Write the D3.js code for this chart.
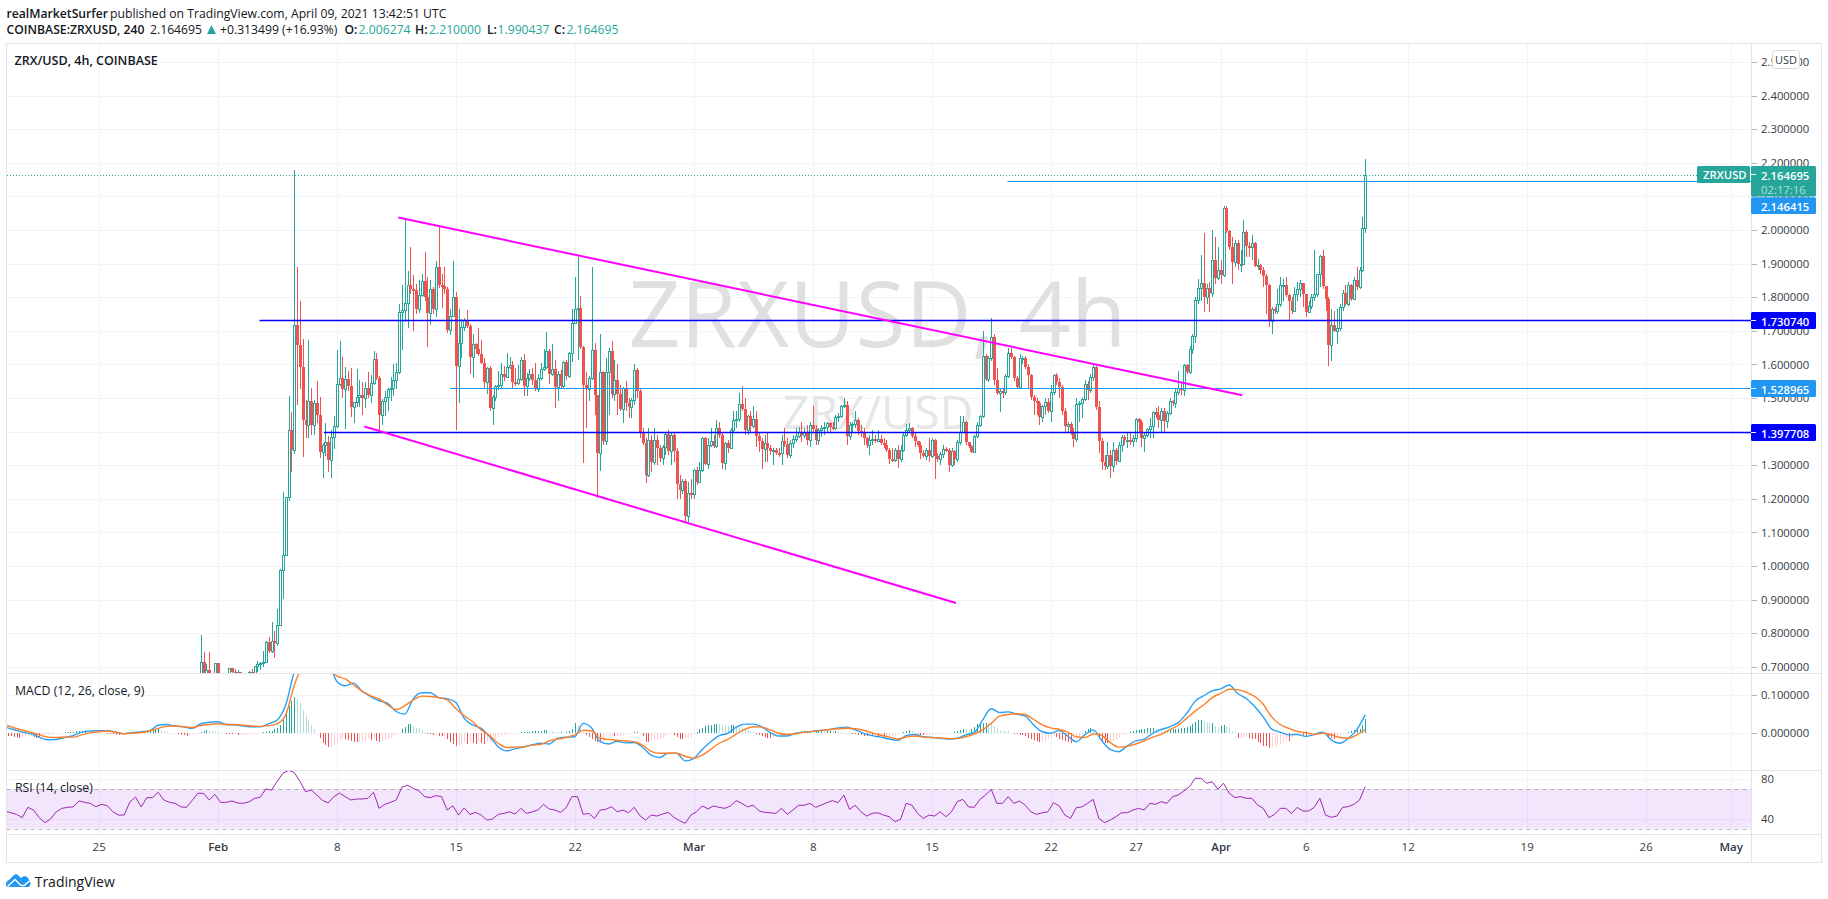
<!DOCTYPE html>
<html><head><meta charset="utf-8">
<script src="https://cdn.jsdelivr.net/npm/d3@7/dist/d3.min.js"></script>
<style>html,body{margin:0;padding:0;background:#fff}svg{display:block}text{font-family:"Open Sans",sans-serif;fill:#131722}</style>
</head><body><svg id="c" width="1828" height="899"></svg>
<script>
const priceTicks=[2.5,2.4,2.3,2.2,2.1,2,1.9,1.8,1.7,1.6,1.5,1.4,1.3,1.2,1.1,1,.9,.8,.7];
const macdTicks=[.1,0];
const rsiTicks=[80,40];
const timeLabels=["25","Feb","8","15","22","Mar","8","15","22","27","Apr","6","12","19","26","May"];
const timeDates=["2021-01-25","2021-02-01","2021-02-08","2021-02-15","2021-02-22","2021-03-01","2021-03-08","2021-03-15","2021-03-22","2021-03-27","2021-04-01","2021-04-06","2021-04-12","2021-04-19","2021-04-26","2021-05-01"];
const candleStart="2021-01-31T00:00:00Z"; // 4h bars
const firstOpen=.65;
const closes=[.715,.66,.69,.66,.65,.71,.66,.65,.65,.66,
.695,.684,.675,.685,.67,.665,.67,.686,.668,.703,
.708,.71,.715,.774,.748,.777,.771,.824,.989,1.033,
1.206,1.405,1.344,1.718,1.657,1.593,1.435,1.42,1.49,1.42,
1.484,1.45,1.338,1.361,1.368,1.315,1.384,1.417,1.541,1.561,
1.526,1.558,1.536,1.473,1.487,1.504,1.509,1.499,1.531,1.509,
1.544,1.616,1.56,1.448,1.49,1.502,1.526,1.529,1.554,1.578,
1.757,1.763,1.783,1.837,1.823,1.82,1.766,1.807,1.847,1.802,
1.753,1.825,1.766,1.891,1.837,1.832,1.825,1.702,1.743,1.8,
1.595,1.665,1.71,1.733,1.714,1.621,1.662,1.645,1.63,1.605,
1.549,1.588,1.47,1.504,1.536,1.54,1.571,1.563,1.593,1.598,
1.549,1.544,1.556,1.613,1.536,1.561,1.571,1.553,1.526,1.56,
1.587,1.591,1.64,1.57,1.585,1.534,1.571,1.536,1.607,1.565,
1.633,1.724,1.766,1.769,1.652,1.539,1.526,1.561,1.642,1.509,
1.336,1.576,1.371,1.578,1.64,1.511,1.555,1.512,1.467,1.529,
1.486,1.473,1.494,1.583,1.522,1.396,1.366,1.272,1.376,1.31,
1.376,1.351,1.322,1.353,1.394,1.341,1.39,1.341,1.243,1.226,
1.252,1.149,1.218,1.215,1.287,1.25,1.287,1.381,1.305,1.361,
1.373,1.356,1.41,1.391,1.307,1.366,1.351,1.406,1.435,1.438,
1.483,1.467,1.404,1.445,1.418,1.437,1.386,1.371,1.348,1.366,
1.351,1.341,1.346,1.336,1.335,1.371,1.364,1.33,1.366,1.378,
1.386,1.398,1.391,1.398,1.376,1.42,1.408,1.376,1.406,1.41,
1.415,1.427,1.415,1.41,1.443,1.445,1.477,1.48,1.386,1.42,
1.423,1.435,1.403,1.4,1.381,1.361,1.376,1.378,1.371,1.378,
1.366,1.361,1.346,1.317,1.316,1.346,1.317,1.346,1.391,1.404,
1.41,1.388,1.371,1.361,1.336,1.327,1.346,1.327,1.374,1.327,
1.317,1.332,1.349,1.346,1.3,1.341,1.317,1.369,1.4,1.43,
1.368,1.356,1.338,1.386,1.42,1.445,1.625,1.556,1.618,1.682,
1.554,1.516,1.522,1.518,1.566,1.633,1.621,1.559,1.534,1.618,
1.62,1.591,1.567,1.502,1.49,1.484,1.443,1.475,1.487,1.46,
1.517,1.568,1.549,1.534,1.46,1.417,1.422,1.4,1.378,1.481,
1.484,1.496,1.541,1.524,1.563,1.591,1.473,1.371,1.309,1.299,
1.331,1.297,1.344,1.312,1.361,1.384,1.374,1.376,1.373,1.38,
1.437,1.43,1.38,1.39,1.407,1.417,1.458,1.45,1.435,1.462,
1.432,1.455,1.49,1.484,1.519,1.531,1.524,1.598,1.576,1.645,
1.684,1.793,1.827,1.843,1.8,1.827,1.812,1.911,1.858,1.881,
1.867,2.064,1.998,1.949,1.904,1.961,1.899,1.9,1.993,1.953,
1.95,1.96,1.892,1.897,1.881,1.862,1.835,1.728,1.766,1.758,
1.78,1.835,1.836,1.807,1.79,1.759,1.81,1.825,1.843,1.81,
1.756,1.773,1.802,1.81,1.868,1.924,1.833,1.795,1.657,1.718,
1.7,1.709,1.771,1.813,1.78,1.835,1.795,1.85,1.83,1.881,
2.006,2.164695];
const highs=[.795,.745,.708,.745,.67,.712,.712,.67,.67,.675,
.697,.695,.692,.69,.684,.676,.678,.688,.692,.703,
.718,.715,.747,.778,.79,.834,.806,.873,.99,1.22,
1.206,1.505,1.457,2.178,1.89,1.79,1.677,1.495,1.674,1.53,
1.494,1.55,1.504,1.366,1.425,1.386,1.405,1.445,1.642,1.669,
1.622,1.593,1.58,1.588,1.487,1.586,1.553,1.549,1.549,1.578,
1.568,1.639,1.635,1.565,1.497,1.52,1.53,1.563,1.6,1.603,
1.78,1.835,2.03,1.879,1.95,1.865,1.84,1.85,1.87,1.934,
1.86,1.85,1.83,1.909,2.013,1.87,1.891,1.83,1.766,1.909,
1.815,1.766,1.736,1.738,1.761,1.72,1.69,1.665,1.709,1.674,
1.618,1.593,1.595,1.51,1.54,1.58,1.603,1.595,1.633,1.623,
1.61,1.59,1.598,1.623,1.63,1.573,1.585,1.59,1.603,1.571,
1.603,1.647,1.696,1.647,1.662,1.613,1.58,1.583,1.61,1.612,
1.636,1.766,1.86,1.921,1.805,1.655,1.578,1.565,1.891,1.664,
1.51,1.69,1.58,1.62,1.65,1.67,1.612,1.6,1.54,1.532,
1.551,1.5,1.5,1.6,1.59,1.53,1.412,1.38,1.41,1.39,
1.41,1.39,1.36,1.36,1.398,1.405,1.4,1.4,1.35,1.27,
1.26,1.26,1.25,1.26,1.29,1.295,1.31,1.383,1.385,1.38,
1.41,1.39,1.435,1.43,1.4,1.37,1.375,1.41,1.46,1.46,
1.514,1.535,1.5,1.45,1.46,1.475,1.46,1.4,1.38,1.39,
1.395,1.36,1.35,1.35,1.35,1.39,1.41,1.38,1.375,1.39,
1.41,1.415,1.43,1.41,1.42,1.43,1.475,1.42,1.41,1.42,
1.43,1.43,1.43,1.43,1.45,1.455,1.48,1.5,1.49,1.43,
1.43,1.46,1.44,1.42,1.41,1.385,1.39,1.405,1.39,1.405,
1.39,1.38,1.375,1.35,1.35,1.35,1.36,1.36,1.4,1.423,
1.425,1.415,1.4,1.37,1.37,1.345,1.35,1.381,1.38,1.378,
1.335,1.34,1.36,1.355,1.35,1.35,1.345,1.375,1.445,1.445,
1.433,1.37,1.36,1.39,1.43,1.45,1.7,1.63,1.625,1.739,
1.69,1.59,1.53,1.53,1.57,1.65,1.65,1.625,1.565,1.63,
1.625,1.625,1.6,1.57,1.51,1.5,1.49,1.48,1.5,1.5,
1.54,1.57,1.575,1.56,1.54,1.47,1.43,1.43,1.41,1.5,
1.49,1.5,1.555,1.552,1.571,1.6,1.595,1.49,1.38,1.33,
1.37,1.345,1.37,1.35,1.37,1.39,1.39,1.395,1.395,1.39,
1.44,1.44,1.435,1.395,1.41,1.44,1.46,1.47,1.475,1.47,
1.47,1.46,1.5,1.495,1.53,1.58,1.545,1.6,1.6,1.655,
1.69,1.8,1.855,1.925,1.99,1.84,1.845,2,1.98,1.95,
1.91,2.07,2.07,2,1.98,1.97,1.97,1.94,2.03,2,
1.965,1.985,1.965,1.915,1.9,1.89,1.87,1.84,1.77,1.77,
1.825,1.86,1.855,1.86,1.81,1.8,1.83,1.845,1.85,1.84,
1.81,1.79,1.81,1.94,1.87,1.925,1.94,1.825,1.8,1.765,
1.76,1.765,1.78,1.82,1.835,1.845,1.84,1.86,1.89,1.89,
2.04,2.21];
const lows=[.65,.64,.65,.65,.64,.64,.64,.64,.63,.64,
.65,.66,.66,.665,.66,.65,.65,.66,.66,.665,
.685,.69,.7,.715,.742,.74,.725,.762,.82,.903,
1.03,1.193,1.279,1.334,1.48,1.526,1.323,1.38,1.38,1.39,
1.39,1.425,1.32,1.262,1.327,1.279,1.262,1.349,1.41,1.535,
1.501,1.408,1.52,1.442,1.427,1.474,1.474,1.45,1.47,1.499,
1.484,1.54,1.555,1.4,1.42,1.445,1.461,1.49,1.506,1.526,
1.57,1.642,1.726,1.707,1.81,1.699,1.751,1.753,1.8,1.79,
1.652,1.718,1.75,1.741,1.827,1.768,1.81,1.694,1.687,1.74,
1.405,1.486,1.62,1.7,1.707,1.571,1.56,1.63,1.625,1.6,
1.526,1.511,1.46,1.42,1.49,1.525,1.53,1.55,1.56,1.585,
1.53,1.535,1.54,1.55,1.506,1.506,1.55,1.54,1.52,1.519,
1.555,1.58,1.585,1.542,1.565,1.47,1.491,1.53,1.53,1.555,
1.56,1.608,1.72,1.613,1.645,1.306,1.412,1.49,1.555,1.45,
1.203,1.282,1.36,1.36,1.45,1.5,1.49,1.45,1.46,1.425,
1.46,1.44,1.44,1.48,1.5,1.38,1.36,1.247,1.265,1.28,
1.3,1.3,1.31,1.3,1.33,1.33,1.3,1.31,1.2,1.2,
1.215,1.13,1.13,1.2,1.2,1.24,1.248,1.28,1.3,1.29,
1.355,1.35,1.35,1.38,1.29,1.285,1.335,1.35,1.4,1.41,
1.43,1.46,1.39,1.39,1.4,1.41,1.355,1.34,1.288,1.31,
1.31,1.33,1.3,1.33,1.325,1.3,1.355,1.32,1.32,1.35,
1.37,1.38,1.37,1.38,1.36,1.355,1.4,1.36,1.36,1.385,
1.39,1.395,1.4,1.405,1.405,1.43,1.44,1.47,1.36,1.375,
1.4,1.41,1.39,1.385,1.36,1.35,1.33,1.36,1.365,1.37,
1.36,1.35,1.34,1.304,1.31,1.31,1.292,1.31,1.34,1.385,
1.395,1.38,1.355,1.355,1.317,1.32,1.315,1.31,1.32,1.26,
1.31,1.3,1.32,1.34,1.279,1.295,1.3,1.31,1.36,1.395,
1.36,1.35,1.335,1.335,1.38,1.415,1.44,1.55,1.548,1.61,
1.54,1.51,1.457,1.5,1.51,1.56,1.615,1.55,1.53,1.53,
1.6,1.585,1.53,1.495,1.45,1.45,1.42,1.43,1.45,1.455,
1.43,1.51,1.54,1.5,1.45,1.4,1.4,1.39,1.353,1.37,
1.43,1.44,1.49,1.495,1.515,1.55,1.465,1.335,1.285,1.285,
1.29,1.262,1.28,1.3,1.31,1.34,1.36,1.35,1.36,1.355,
1.37,1.4,1.355,1.34,1.385,1.38,1.38,1.44,1.41,1.4,
1.4,1.41,1.45,1.475,1.47,1.51,1.51,1.505,1.57,1.57,
1.63,1.665,1.78,1.79,1.755,1.78,1.755,1.8,1.84,1.85,
1.838,1.86,1.99,1.94,1.838,1.89,1.88,1.875,1.895,1.92,
1.92,1.91,1.89,1.88,1.87,1.83,1.75,1.71,1.69,1.75,
1.75,1.77,1.79,1.8,1.73,1.75,1.755,1.79,1.8,1.77,
1.74,1.755,1.765,1.79,1.8,1.83,1.825,1.76,1.595,1.61,
1.695,1.66,1.7,1.76,1.775,1.775,1.79,1.795,1.82,1.825,
1.875,1.990437];
// MACD, signal: every 12h from Jan 19 12:00; RSI: every 8h; histogram: every 4h, in thousandths
const indicatorStart="2021-01-19T12:00:00Z";
const macdLine=[.016,.01,.003,-.001,-.01,-.017,-.016,-.011,-.006,.003,.006,.007,.007,.003,-.001,.002,.004,.007,.021,.023,.019,.017,.013,.025,.029,.03,.023,.022,.019,.017,.017,.025,.035,.074,.16,.215,.223,.212,.19,.136,
.124,.131,.109,.096,.085,.078,.057,.05,.09,.106,.106,.093,.09,.081,.039,.022,.013,-.009,-.035,-.046,-.04,-.036,-.03,-.026,-.028,-.013,-.01,-.009,.026,.014,
-.022,-.028,-.021,-.025,-.024,-.037,-.057,-.063,-.052,-.052,-.072,-.066,-.042,-.022,-.006,0,.016,.024,.024,.017,.002,-.007,-.007,0,.003,.005,.008,.01,.014,.016,
.009,0,-.006,-.01,-.015,-.018,-.006,-.003,-.009,-.011,-.013,-.015,-.013,-.004,.002,.035,.064,.054,.056,.05,.045,.022,.004,0,.007,-.007,-.022,-.004,.009,-.019,
-.042,-.048,-.033,-.02,-.015,0,.01,.017,.028,.052,.084,.098,.111,.116,.126,.104,.091,.07,.043,.011,.003,-.004,-.003,-.008,-.003,.003,-.017,-.026,-.013,.009,.048];
const signalLine=[.022,.015,.008,.003,-.004,-.01,-.011,-.01,-.01,-.004,.001,.004,.006,.003,-.001,0,.002,.006,.013,.018,.019,.017,.015,.02,.023,.025,.023,.023,.021,.019,.018,.02,.025,.048,.125,.175,.19,.19,.171,.15,
.142,.126,.11,.098,.09,.074,.062,.072,.087,.097,.096,.093,.087,.065,.046,.03,.009,-.006,-.026,-.037,-.036,-.035,-.031,-.029,-.02,-.015,-.011,-.004,.008,.006,
-.013,-.016,-.018,-.02,-.022,-.031,-.047,-.052,-.052,-.052,-.06,-.065,-.057,-.042,-.026,-.016,-.002,.01,.017,.016,.009,0,-.003,-.001,.003,.005,.007,.01,.012,.013,
.012,.008,.001,-.005,-.01,-.015,-.01,-.007,-.01,-.011,-.012,-.014,-.014,-.009,-.002,.009,.026,.045,.049,.051,.049,.036,.022,.014,.01,.003,-.009,-.011,-.002,-.006,
-.024,-.036,-.034,-.028,-.02,-.01,-.003,.009,.021,.039,.058,.074,.093,.104,.115,.114,.107,.096,.076,.043,.023,.013,.005,.002,-.003,0,-.004,-.011,-.013,-.004,.01];
const rsiLine=[47.8,46,44.4,41,51.5,48.8,41,36,39.7,47,50.5,51.5,52,58,56.6,55.6,52.2,54.6,53.2,47,43.7,43.7,57,62,52,61.4,61.4,66.8,59,56.6,
55.6,52,51.5,58.6,65.8,65.8,59,64.7,56.6,56.6,58,56,55.6,57,60.6,61.7,70.2,69,78,86,89,87,78,67.5,69,64,58.6,56,62.4,66,
62.4,59,60,60,60.7,66.8,50.5,54.6,56.6,59,72,74,70.8,68.5,62.4,61.4,63.4,62.4,48.8,53,43.7,51,44.4,46.4,43.7,38.6,39.7,44.4,45.4,47,
44.7,50.5,45.4,47,48.8,54.6,49.8,48.8,46.4,51.2,62.4,62.4,44.4,45.4,40.3,48.8,49.5,52.2,47,48.8,46,51.5,43,38.6,43.7,42.7,44.7,46.4,41.4,38,
35.3,43.7,47,52.9,50,52.9,51.5,50.5,53,58.3,55.6,52,53.8,48,46.4,46,45.4,50.5,44.4,48.8,53.6,53.6,55.6,51.5,53.8,56.3,58.3,56.3,64,49.5,
53.6,47,42.7,45.4,46,43.7,42,37,39.3,55.6,53.8,45.4,40.3,43.7,42.7,47,42,47,57.3,59.6,52,51.5,59.6,64,69.8,55.6,55.6,62.4,55.6,58,
53.8,47,44.4,46,47,56.3,52.9,43.7,40.3,51.2,52,55.6,59.6,40.3,36,38.6,42,46,46,48.8,50.5,48.8,55.6,54.6,57.3,55.6,62.4,64,68.1,72.5,
81,81,76,77.6,70,76,65.8,61.4,62.4,60.7,60.7,54,50.5,41,44.4,50.5,50.5,45.4,51.5,47.8,47.8,51.5,60.7,43.7,41.4,42.7,51.5,52.2,54.6,59,72.5];
const macdHist=[-6,-7,-8,-9,-10,-11,-10,-9,-8,-8,-9,-11,-13,-8,-5,-4,-3,-2,-1,1,2,3,3,4,4,5,6,7,8,7,6,5,3,2,1,0,-1,-2,-3,-4,-5,-4,-3,-2,-1,0,1,3,
3,4,5,7,9,11,12,8,5,3,2,1,0,-3,-4,-5,-6,-5,-3,-1,1,4,7,9,7,6,5,3,2,1,-1,-2,-3,-3,-4,-4,-4,-4,-3,-3,-2,-1,1,3,4,6,7,10,
13,22,34,50,70,85,96,90,78,62,48,36,22,10,2,-13,-26,-31,-37,-35,-31,-25,-19,-14,-15,-17,-20,-22,-23,-23,-22,-20,-16,-18,-16,-20,-22,-19,-17,-16,-13,-8,-4,2,10,
17,23,24,20,15,13,9,3,-1,-3,-5,-4,-7,-8,-6,-15,-22,-28,-32,-30,-27,-24,-29,-24,-26,-28,-20,-25,-27,-24,-22,-18,-14,-10,-7,-4,-3,-1,1,2,2,3,3,3,4,5,6,6,
7,8,8,6,5,4,3,3,2,3,6,12,28,22,12,4,-4,-10,-16,-20,-22,-24,-24,-8,-7,-7,-8,-7,-6,-4,-2,0,2,3,3,1,-8,-22,-24,-20,-18,-17,-15,-11,-7,-3,-2,-5,-10,-14,-15,
-13,-12,-11,-3,3,10,15,18,21,22,24,25,23,21,20,18,21,22,20,18,16,14,10,7,3,-1,-4,-7,-9,-11,-12,-10,-9,-6,-4,-2,-1,1,2,3,4,5,6,6,6,5,6,7,
7,6,7,7,5,5,4,3,2,1,0,-2,-3,-4,-5,-6,-7,-7,-8,-8,-9,-8,-9,-9,-8,-8,-6,-3,2,4,6,8,7,3,-3,-4,-5,-5,-5,-4,-3,-3,-3,-2,-2,-1,1,3,
5,9,11,10,9,10,16,24,26,27,28,27,25,20,10,8,7,6,5,2,-1,-3,-4,-5,-8,-12,-15,-18,-20,-22,-22,-20,-16,-12,-8,-9,-14,-17,-20,-24,-26,-22,-16,-10,-3,6,10,14,
8,-4,-12,-20,-25,-26,-24,-20,-15,-10,-5,-1,2,4,7,9,9,10,12,13,14,14,12,11,10,9,8,10,10,11,12,13,15,17,20,23,30,36,36,33,30,26,28,20,17,20,22,16,13,
6,3,-12,-12,-10,-10,-13,-14,-15,-22,-25,-32,-34,-38,-36,-33,-30,-28,-22,-18,-19,-12,-6,-4,-3,-4,-9,-6,-3,-2,2,3,2,-3,-10,-13,-14,-13,-6,-3,-1,4,7,8,9,12,22,38];
const trendUpper=[["2021-02-11T15:00:00Z",2.037],["2021-04-02T06:30:00Z",1.508]];
const trendLower=[["2021-02-09T15:00:00Z",1.415],["2021-03-16T10:20:00Z",.89]];
const levels=[{p:1.73074,c:"#0000ff",from:"2021-02-03T11:00:00Z"},{p:1.528965,c:"#2196f3",from:"2021-02-14T16:00:00Z"},{p:1.397708,c:"#0000ff",from:"2021-02-07T06:00:00Z"},{p:2.146415,c:"#2196f3",from:"2021-03-19T11:00:00Z"}];
const lastPrice=2.164695;

const L=6.5,R=1751.5,OUT=1821.5,T=43.5,B1=673.5,B2=770.5,B3=834.5,B4=862.5;
const ms=h=>h*3600e3;
const x=d3.scaleUtc().domain([new Date("2021-02-01T00:00:00Z"),new Date("2021-05-01T00:00:00Z")]).range([217.7,1730.7]);
const y=d3.scaleLinear().domain([2.4,.7]).range([95.6,666.8]);
const ym=d3.scaleLinear().domain([.1,0]).range([695,733.3]);
const yr=d3.scaleLinear().domain([80,40]).range([779.3,818.7]);
const svg=d3.select("#c");
const defs=svg.append("defs");
[["cm",T,B1],["cd",B1,B2],["cr",B2,B3]].forEach(([id,a,b])=>defs.append("clipPath").attr("id",id).append("rect").attr("x",L).attr("y",a).attr("width",R-L).attr("height",b-a));
const grid="#f0f3fa",line="#e0e3eb";
const gridG=svg.append("g").attr("stroke",grid).attr("shape-rendering","crispEdges");
const tDates=timeDates.map(d=>new Date(d+"T00:00:00Z"));
gridG.selectAll(".v").data(tDates).join("line").attr("x1",d=>Math.round(x(d))+.5).attr("x2",d=>Math.round(x(d))+.5).attr("y1",T).attr("y2",B3);
const hg=(sc,vals)=>gridG.append("g").selectAll("line").data(vals).join("line").attr("x1",L).attr("x2",R).attr("y1",d=>Math.round(sc(d))+.5).attr("y2",d=>Math.round(sc(d))+.5);
hg(y,priceTicks);hg(ym,macdTicks);hg(yr,rsiTicks);
// watermark
const wm=svg.append("g").attr("text-anchor","middle").attr("clip-path","url(#cm)");
wm.append("text").attr("x",877.5).attr("y",347).attr("font-size",91).style("fill","#e0e0e0").text("ZRXUSD, 4h");
wm.append("text").attr("x",878).attr("y",429).attr("font-size",46).style("fill","#e6e6e6").text("ZRX/USD");
// candles
const t0=+new Date(candleStart);
const candles=closes.map((c,i)=>({t:new Date(t0+ms(4*i)),o:i?closes[i-1]:firstOpen,c,h:highs[i],l:lows[i]}));
const up="#26a69a",dn="#ef5350";
const cg=svg.append("g").attr("clip-path","url(#cm)").attr("shape-rendering","crispEdges");
const bar=cg.selectAll("g").data(candles).join("g");
bar.append("rect").attr("x",d=>Math.round(x(d.t))).attr("width",1).attr("y",d=>y(d.h)).attr("height",d=>y(d.l)-y(d.h)).attr("fill",d=>d.c>=d.o?up:dn);
bar.append("rect").attr("x",d=>Math.round(x(d.t))-1+(d.c>=d.o?.5:0)).attr("width",d=>d.c>=d.o?2:3)
 .attr("y",d=>Math.round(y(Math.max(d.o,d.c)))+(d.c>=d.o?.5:0))
 .attr("height",d=>Math.max(d.c>=d.o?1:2,Math.round(y(Math.min(d.o,d.c)))-Math.round(y(Math.max(d.o,d.c)))))
 .attr("fill",d=>d.c>=d.o?"#fff":dn).attr("stroke",d=>d.c>=d.o?up:"none");
// last price dotted
svg.append("line").attr("x1",L).attr("x2",1697).attr("y1",Math.round(y(lastPrice))+.5).attr("y2",Math.round(y(lastPrice))+.5).attr("stroke",up).attr("stroke-dasharray","1 2").attr("shape-rendering","crispEdges");
// drawings
const lg=svg.append("g").attr("clip-path","url(#cm)");
levels.forEach(l=>lg.append("line").attr("x1",x(new Date(l.from))).attr("x2",R).attr("y1",Math.round(y(l.p))+.5).attr("y2",Math.round(y(l.p))+.5).attr("stroke",l.c).attr("stroke-width",l.c==="#0000ff"?1.4:1.2));
[trendUpper,trendLower].forEach(t=>lg.append("path").attr("d",d3.line().x(d=>x(new Date(d[0]))).y(d=>y(d[1]))(t)).attr("stroke","#ff00ff").attr("stroke-width",2).attr("fill","none"));
// MACD pane
const i0=+new Date(indicatorStart);
const dg=svg.append("g").attr("clip-path","url(#cd)");
const histCol=(v,p)=>v>=0?(v>=p?"#26a69a":"#b2dfdb"):(v<p?"#ef5350":"#ffcdd2");
dg.append("g").attr("shape-rendering","crispEdges").selectAll("rect").data(macdHist).join("rect")
 .attr("x",(v,i)=>Math.round(x(new Date(i0+ms(4*i))))).attr("width",1)
 .attr("y",v=>Math.min(ym(v/1000),ym(0))).attr("height",v=>Math.abs(ym(v/1000)-ym(0)))
 .attr("fill",(v,i)=>histCol(v,i?macdHist[i-1]:v));
const ml=d3.line().x((v,i)=>x(new Date(i0+ms(12*i)))).y(v=>ym(v)).curve(d3.curveMonotoneX);
dg.append("path").attr("d",ml(macdLine)).attr("fill","none").attr("stroke","#29a0f5").attr("stroke-width",1.4);
dg.append("path").attr("d",ml(signalLine)).attr("fill","none").attr("stroke","#ff7f27").attr("stroke-width",1.4);
// RSI pane
const rg=svg.append("g").attr("clip-path","url(#cr)");
rg.append("rect").attr("x",L).attr("width",R-L).attr("y",yr(70)).attr("height",yr(30)-yr(70)).attr("fill","#9b26e6").attr("fill-opacity",.12);
[70,30].forEach(v=>rg.append("line").attr("x1",L).attr("x2",R).attr("y1",Math.round(yr(v))+.5).attr("y2",Math.round(yr(v))+.5).attr("stroke","#787b86").attr("stroke-opacity",.55).attr("stroke-dasharray","4 4"));
rg.append("path").attr("d",d3.line().x((v,i)=>x(new Date(i0+ms(8*i)))).y(v=>yr(v))(rsiLine)).attr("fill","none").attr("stroke","#9c27b0").attr("stroke-width",1);
// frame
const fr=svg.append("g").attr("stroke",line).attr("shape-rendering","crispEdges").attr("fill","none");
fr.append("rect").attr("x",L).attr("y",T).attr("width",OUT-L).attr("height",B4-T);
[B1,B2,B3].forEach(v=>fr.append("line").attr("x1",L).attr("x2",OUT).attr("y1",v).attr("y2",v));
fr.append("line").attr("x1",R).attr("x2",R).attr("y1",T).attr("y2",B4);
// axes
const axStyle=g=>{g.select(".domain").remove();g.selectAll("line").attr("stroke","#b2b5be").attr("shape-rendering","crispEdges");g.selectAll("text").attr("font-size",11.3).attr("font-family",null).style("fill","#363a45");};
svg.append("g").attr("transform",`translate(${R},0)`).call(d3.axisRight(y).tickValues(priceTicks).tickSize(5).tickPadding(4.5).tickFormat(d3.format(".6f"))).call(axStyle);
svg.append("g").attr("transform",`translate(${R},0)`).call(d3.axisRight(ym).tickValues(macdTicks).tickSize(5).tickPadding(4.5).tickFormat(d3.format(".6f"))).call(axStyle);
svg.append("g").attr("transform",`translate(${R},0)`).call(d3.axisRight(yr).tickValues(rsiTicks).tickSize(0).tickPadding(9.5).tickFormat(d3.format("d"))).call(axStyle);
const xAxis=svg.append("g").attr("transform",`translate(0,${B3+5})`).call(d3.axisBottom(x).tickValues(tDates).tickSize(0).tickPadding(3).tickFormat((d,i)=>timeLabels[i])).call(axStyle);
xAxis.selectAll("text").attr("font-size",11.5).attr("font-weight",(d,i)=>/[A-Z]/.test(timeLabels[i])?600:400);
// price labels
const box=(a,b,yc,h,c,txt,opts={})=>{svg.append("rect").attr("x",a).attr("width",b-a).attr("y",yc-h/2).attr("height",h).attr("fill",c).attr("rx",1.5);
 if(txt)svg.append("text").attr("x",opts.tx||1761).attr("y",yc+.5).attr("dominant-baseline","central").attr("font-size",opts.fs||11.3).attr("font-weight",600).style("fill","#fff").text(txt);};
const axisBox=(p,c)=>{const yc=Math.round(y(p))+.5;box(1751,1816,yc,17,c,d3.format(".6f")(p));svg.append("line").attr("x1",1751).attr("x2",1756).attr("y1",yc).attr("y2",yc).attr("stroke","#fff").attr("shape-rendering","crispEdges");};
box(1751,1816,181.3,30.6,up,null);
svg.append("text").attr("x",1761).attr("y",175).attr("dominant-baseline","central").attr("font-size",11.3).attr("font-weight",600).style("fill","#fff").text("2.164695");
svg.append("text").attr("x",1761).attr("y",189).attr("dominant-baseline","central").attr("font-size",11.3).style("fill","#fff").style("fill-opacity",.65).text("02:17:16");
svg.append("line").attr("x1",1751).attr("x2",1756).attr("y1",174.5).attr("y2",174.5).attr("stroke","#fff").attr("shape-rendering","crispEdges");
box(1697,1750,174.4,17,up,"ZRXUSD",{tx:1703,fs:11.3});
box(1751,1816,205.6,16.6,"#2196f3","2.146415");
axisBox(1.73074,"#0000ff");axisBox(1.528965,"#2196f3");axisBox(1.397708,"#0000ff");
// USD button
svg.append("rect").attr("x",1772.5).attr("y",50.5).attr("width",27).attr("height",18).attr("rx",3).attr("fill","#fff").attr("stroke","#d6d8e0");
svg.append("text").attr("x",1786).attr("y",59.5).attr("text-anchor","middle").attr("dominant-baseline","central").attr("font-size",11).style("fill","#363a45").text("USD");
// legends
const lgd=(t,xx,yy,fs,w)=>svg.append("text").attr("x",xx).attr("y",yy).attr("dominant-baseline","central").attr("font-size",fs).attr("font-weight",w||400).text(t);
lgd("ZRX/USD, 4h, COINBASE",14.5,60.5,12.5,600);
lgd("MACD (12, 26, close, 9)",15,690,12.3);
lgd("RSI (14, close)",15,787.5,12.3);
// header
lgd("realMarketSurfer",6.5,13,12.2,600);
lgd("published on TradingView.com, April 09, 2021 13:42:51 UTC",110,13,12.2);
lgd("COINBASE:ZRXUSD, 240",6.5,29.5,12.2,600);
lgd("2.164695",150,29.5,12.2);
svg.append("path").attr("d","M207 34L211.5 25L216 34Z").attr("fill",up);
lgd("+0.313499 (+16.93%)",220,29.5,12.2);
[["O:",344.4,"2.006274",358.6],["H:",415,"2.210000",429],["L:",487,"1.990437",497.5],["C:",554,"2.164695",566.4]].forEach(r=>{lgd(r[0],r[1],29.5,12.2,600);lgd(r[2],r[3],29.5,12.2).style("fill",up);});
// footer logo
svg.append("path").attr("d","M7 887C5 885 6 881 9 880L14 875C15 874 17 874 18 875L21 878C24 875 28 876 29 880C31 882 31 885 29 887Z").attr("fill","#2196f3");
svg.append("path").attr("d","M7.5 886.5L15 879.5L21 885.5L24 885.5L29.5 881").attr("fill","none").attr("stroke","#fff").attr("stroke-width",1.5);
lgd("TradingView",34.7,881,14);
</script></body></html>
